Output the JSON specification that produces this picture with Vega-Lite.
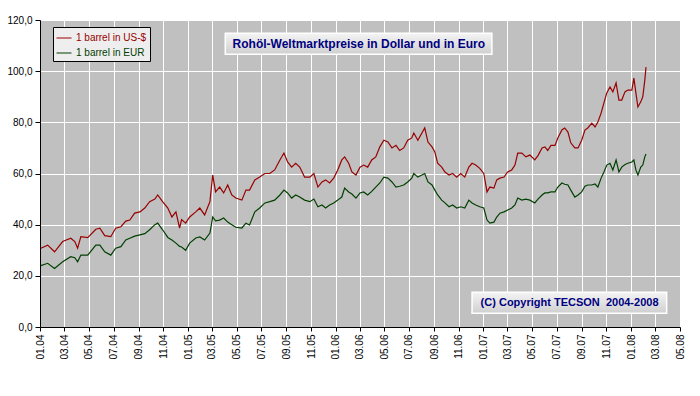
{
  "$schema": "https://vega.github.io/schema/vega-lite/v6.json",
  "width": 640,
  "height": 307,
  "autosize": {"type": "none"},
  "padding": {"left": 40, "top": 20, "right": 20, "bottom": 69},
  "background": "white",
  "config": {
    "view": {"fill": "#C0C0C0", "stroke": null},
    "font": "Liberation Sans",
    "axis": {
      "domainColor": "black",
      "tickColor": "black",
      "labelColor": "black",
      "labelFont": "Liberation Sans",
      "labelFontSize": 10,
      "gridColor": "white",
      "gridOpacity": 1,
      "gridWidth": 1,
      "title": null
    }
  },
  "datasets": {
    "prices": [
      {"date": "2004-01-03", "usd": 30.8, "eur": 24.0},
      {"date": "2004-01-20", "usd": 32.0, "eur": 24.9},
      {"date": "2004-02-06", "usd": 29.4, "eur": 22.9},
      {"date": "2004-02-26", "usd": 33.4, "eur": 25.5},
      {"date": "2004-03-17", "usd": 34.7, "eur": 27.5},
      {"date": "2004-03-27", "usd": 33.4, "eur": 27.1},
      {"date": "2004-04-03", "usd": 30.8, "eur": 25.5},
      {"date": "2004-04-11", "usd": 35.3, "eur": 28.1},
      {"date": "2004-04-28", "usd": 34.9, "eur": 28.1},
      {"date": "2004-05-18", "usd": 38.2, "eur": 32.0},
      {"date": "2004-05-28", "usd": 38.6, "eur": 32.0},
      {"date": "2004-06-09", "usd": 35.7, "eur": 29.4},
      {"date": "2004-06-24", "usd": 35.3, "eur": 28.1},
      {"date": "2004-07-06", "usd": 38.6, "eur": 30.8},
      {"date": "2004-07-19", "usd": 39.2, "eur": 31.4},
      {"date": "2004-07-31", "usd": 41.4, "eur": 34.0},
      {"date": "2004-08-10", "usd": 41.8, "eur": 34.7},
      {"date": "2004-08-22", "usd": 44.5, "eur": 35.5},
      {"date": "2004-09-04", "usd": 45.0, "eur": 36.0},
      {"date": "2004-09-16", "usd": 46.5, "eur": 36.5},
      {"date": "2004-09-28", "usd": 49.0, "eur": 38.0},
      {"date": "2004-10-11", "usd": 50.0, "eur": 40.0},
      {"date": "2004-10-18", "usd": 51.6, "eur": 40.6},
      {"date": "2004-10-30", "usd": 49.0, "eur": 38.0},
      {"date": "2004-11-12", "usd": 46.5, "eur": 35.0},
      {"date": "2004-11-22", "usd": 43.0, "eur": 34.0},
      {"date": "2004-12-02", "usd": 45.0, "eur": 32.8},
      {"date": "2004-12-11", "usd": 38.7, "eur": 31.5},
      {"date": "2004-12-16", "usd": 42.0, "eur": 31.3},
      {"date": "2004-12-26", "usd": 40.6, "eur": 30.0},
      {"date": "2005-01-05", "usd": 43.0, "eur": 32.8},
      {"date": "2005-01-20", "usd": 45.0, "eur": 34.8},
      {"date": "2005-01-30", "usd": 46.5, "eur": 35.2},
      {"date": "2005-02-11", "usd": 43.8, "eur": 34.0},
      {"date": "2005-02-24", "usd": 49.0, "eur": 36.7},
      {"date": "2005-03-03", "usd": 59.4, "eur": 43.0},
      {"date": "2005-03-10", "usd": 52.8, "eur": 41.5},
      {"date": "2005-03-20", "usd": 54.7, "eur": 41.8},
      {"date": "2005-03-30", "usd": 52.4, "eur": 42.6},
      {"date": "2005-04-09", "usd": 55.5, "eur": 41.0},
      {"date": "2005-04-19", "usd": 51.6, "eur": 40.0},
      {"date": "2005-04-29", "usd": 50.4, "eur": 39.0},
      {"date": "2005-05-14", "usd": 49.6, "eur": 38.7},
      {"date": "2005-05-24", "usd": 53.5, "eur": 40.6},
      {"date": "2005-06-02", "usd": 53.5, "eur": 39.9},
      {"date": "2005-06-15", "usd": 57.5, "eur": 45.0},
      {"date": "2005-06-27", "usd": 58.6, "eur": 46.5},
      {"date": "2005-07-10", "usd": 60.0, "eur": 48.5},
      {"date": "2005-07-22", "usd": 60.0, "eur": 49.0},
      {"date": "2005-08-03", "usd": 61.4, "eur": 49.6},
      {"date": "2005-08-16", "usd": 65.3, "eur": 51.6},
      {"date": "2005-08-26", "usd": 68.0, "eur": 53.5},
      {"date": "2005-09-04", "usd": 64.5, "eur": 52.4},
      {"date": "2005-09-14", "usd": 62.5, "eur": 50.4},
      {"date": "2005-09-24", "usd": 64.0, "eur": 51.6},
      {"date": "2005-10-04", "usd": 62.5, "eur": 50.8},
      {"date": "2005-10-16", "usd": 58.6, "eur": 49.6},
      {"date": "2005-10-29", "usd": 58.6, "eur": 49.0},
      {"date": "2005-11-08", "usd": 60.0, "eur": 50.0},
      {"date": "2005-11-18", "usd": 54.7, "eur": 47.0},
      {"date": "2005-11-28", "usd": 56.7, "eur": 47.7},
      {"date": "2005-12-07", "usd": 57.5, "eur": 46.5},
      {"date": "2005-12-17", "usd": 56.3, "eur": 47.7},
      {"date": "2005-12-27", "usd": 58.2, "eur": 48.5},
      {"date": "2006-01-06", "usd": 61.4, "eur": 49.6},
      {"date": "2006-01-16", "usd": 65.3, "eur": 50.8},
      {"date": "2006-01-23", "usd": 66.5, "eur": 54.3},
      {"date": "2006-02-02", "usd": 64.0, "eur": 52.8},
      {"date": "2006-02-10", "usd": 60.6, "eur": 52.0},
      {"date": "2006-02-20", "usd": 59.4, "eur": 50.4},
      {"date": "2006-03-02", "usd": 62.5, "eur": 52.4},
      {"date": "2006-03-11", "usd": 63.3, "eur": 52.8},
      {"date": "2006-03-21", "usd": 62.5, "eur": 51.6},
      {"date": "2006-03-31", "usd": 65.3, "eur": 53.0},
      {"date": "2006-04-10", "usd": 66.5, "eur": 54.7},
      {"date": "2006-04-20", "usd": 70.4, "eur": 56.3},
      {"date": "2006-04-30", "usd": 73.0, "eur": 58.6},
      {"date": "2006-05-10", "usd": 72.3, "eur": 58.2},
      {"date": "2006-05-20", "usd": 70.0, "eur": 56.7},
      {"date": "2006-05-30", "usd": 71.0, "eur": 54.7},
      {"date": "2006-06-08", "usd": 69.0, "eur": 55.0},
      {"date": "2006-06-18", "usd": 70.0, "eur": 55.5},
      {"date": "2006-06-28", "usd": 73.0, "eur": 56.7},
      {"date": "2006-07-08", "usd": 73.9, "eur": 58.2},
      {"date": "2006-07-13", "usd": 75.8, "eur": 60.0},
      {"date": "2006-07-23", "usd": 73.0, "eur": 58.6},
      {"date": "2006-08-02", "usd": 75.8, "eur": 59.4},
      {"date": "2006-08-09", "usd": 77.8, "eur": 60.0},
      {"date": "2006-08-17", "usd": 72.3, "eur": 56.7},
      {"date": "2006-08-27", "usd": 70.4, "eur": 55.5},
      {"date": "2006-09-03", "usd": 68.4, "eur": 53.5},
      {"date": "2006-09-10", "usd": 64.0, "eur": 51.6},
      {"date": "2006-09-20", "usd": 62.5, "eur": 49.6},
      {"date": "2006-09-28", "usd": 60.6, "eur": 48.5},
      {"date": "2006-10-08", "usd": 59.4, "eur": 47.0},
      {"date": "2006-10-17", "usd": 60.0, "eur": 47.7},
      {"date": "2006-10-27", "usd": 58.6, "eur": 46.5},
      {"date": "2006-11-06", "usd": 60.0, "eur": 47.0},
      {"date": "2006-11-16", "usd": 58.6, "eur": 46.5},
      {"date": "2006-11-26", "usd": 62.5, "eur": 49.6},
      {"date": "2006-12-04", "usd": 64.0, "eur": 48.5},
      {"date": "2006-12-13", "usd": 63.3, "eur": 47.7},
      {"date": "2006-12-23", "usd": 62.0, "eur": 47.0},
      {"date": "2007-01-02", "usd": 60.0, "eur": 46.5},
      {"date": "2007-01-10", "usd": 52.8, "eur": 41.8},
      {"date": "2007-01-17", "usd": 54.7, "eur": 40.6},
      {"date": "2007-01-27", "usd": 54.3, "eur": 41.0},
      {"date": "2007-02-03", "usd": 57.5, "eur": 43.0},
      {"date": "2007-02-11", "usd": 58.2, "eur": 44.5},
      {"date": "2007-02-21", "usd": 58.6, "eur": 45.0},
      {"date": "2007-03-02", "usd": 60.6, "eur": 45.7},
      {"date": "2007-03-12", "usd": 61.4, "eur": 46.5},
      {"date": "2007-03-20", "usd": 63.3, "eur": 47.7},
      {"date": "2007-03-27", "usd": 68.0, "eur": 50.4},
      {"date": "2007-04-06", "usd": 68.0, "eur": 49.6},
      {"date": "2007-04-16", "usd": 66.5, "eur": 50.0},
      {"date": "2007-04-26", "usd": 67.2, "eur": 49.6},
      {"date": "2007-05-08", "usd": 65.3, "eur": 48.5},
      {"date": "2007-05-16", "usd": 67.0, "eur": 50.0},
      {"date": "2007-05-26", "usd": 70.0, "eur": 51.6},
      {"date": "2007-06-02", "usd": 70.4, "eur": 52.4},
      {"date": "2007-06-09", "usd": 69.0, "eur": 52.4},
      {"date": "2007-06-17", "usd": 71.0, "eur": 52.8},
      {"date": "2007-06-27", "usd": 71.0, "eur": 52.8},
      {"date": "2007-07-04", "usd": 73.9, "eur": 54.7},
      {"date": "2007-07-14", "usd": 77.0, "eur": 56.3},
      {"date": "2007-07-21", "usd": 77.8, "eur": 55.8},
      {"date": "2007-07-29", "usd": 76.2, "eur": 55.5},
      {"date": "2007-08-05", "usd": 72.0, "eur": 53.5},
      {"date": "2007-08-15", "usd": 70.0, "eur": 50.8},
      {"date": "2007-08-23", "usd": 70.0, "eur": 51.6},
      {"date": "2007-09-01", "usd": 73.0, "eur": 52.8},
      {"date": "2007-09-09", "usd": 77.0, "eur": 55.0},
      {"date": "2007-09-16", "usd": 77.8, "eur": 55.5},
      {"date": "2007-09-26", "usd": 79.7, "eur": 55.5},
      {"date": "2007-10-04", "usd": 78.2, "eur": 55.9},
      {"date": "2007-10-11", "usd": 80.1, "eur": 54.7},
      {"date": "2007-10-19", "usd": 83.6, "eur": 58.2},
      {"date": "2007-10-26", "usd": 87.6, "eur": 60.6},
      {"date": "2007-11-02", "usd": 91.5, "eur": 63.3},
      {"date": "2007-11-10", "usd": 93.8, "eur": 64.0},
      {"date": "2007-11-17", "usd": 91.9, "eur": 61.4},
      {"date": "2007-11-25", "usd": 95.4, "eur": 65.3},
      {"date": "2007-12-02", "usd": 88.7, "eur": 60.6},
      {"date": "2007-12-09", "usd": 88.7, "eur": 62.5},
      {"date": "2007-12-17", "usd": 91.9, "eur": 63.5},
      {"date": "2007-12-24", "usd": 92.6, "eur": 64.0},
      {"date": "2008-01-03", "usd": 92.6, "eur": 64.5},
      {"date": "2008-01-08", "usd": 97.3, "eur": 65.3},
      {"date": "2008-01-13", "usd": 91.5, "eur": 61.4},
      {"date": "2008-01-18", "usd": 86.0, "eur": 59.4},
      {"date": "2008-01-25", "usd": 88.0, "eur": 62.5},
      {"date": "2008-01-30", "usd": 90.0, "eur": 63.3},
      {"date": "2008-02-04", "usd": 96.5, "eur": 66.5},
      {"date": "2008-02-07", "usd": 101.6, "eur": 67.6}
    ]
  },
  "layer": [
    {
      "data": {"name": "prices"},
      "transform": [{"fold": ["usd", "eur"], "as": ["series", "value"]}],
      "mark": {"type": "line", "strokeWidth": 1.2, "interpolate": "linear"},
      "encoding": {
        "x": {
          "field": "date",
          "type": "temporal",
          "scale": {"domain": [{"year": 2004, "month": 1, "date": 1}, {"year": 2008, "month": 5, "date": 1}], "nice": false},
          "axis": {
            "format": "%m.%y",
            "tickCount": {"interval": "month", "step": 2},
            "labelAngle": 270,
            "tickSize": 4,
            "labelPadding": 3,
            "grid": true,
            "labelOverlap": false,
            "labelFlush": false
          }
        },
        "y": {
          "field": "value",
          "type": "quantitative",
          "scale": {"domain": [0, 120], "nice": false},
          "axis": {
            "values": [0, 20, 40, 60, 80, 100, 120],
            "labelExpr": "replace(format(datum.value, '.1f'), '.', ',')",
            "tickSize": 5,
            "labelPadding": 3,
            "grid": true
          }
        },
        "color": {
          "field": "series",
          "type": "nominal",
          "scale": {"domain": ["usd", "eur"], "range": ["#990000", "#004000"]},
          "legend": {
            "title": null,
            "orient": "none",
            "legendX": 13,
            "legendY": 7,
            "direction": "vertical",
            "symbolType": "stroke",
            "symbolSize": 225,
            "symbolStrokeWidth": 1,
            "labelFont": "Liberation Sans",
            "labelFontSize": 10,
            "labelOffset": 4,
            "rowPadding": 2,
            "padding": 3,
            "strokeColor": "black",
            "fillColor": "#eeeeee",
            "labelExpr": "datum.label == 'usd' ? '1 barrel in US-$' : '1 barrel in EUR'",
            "encode": {"labels": {"update": {"fill": {"scale": "color", "field": "value"}}}}
          }
        }
      }
    },
    {
      "data": {"values": [{}]},
      "mark": {
        "type": "rect",
        "stroke": "white",
        "strokeWidth": 1.5,
        "fill": {"gradient": "linear", "x1": 0, "y1": 0, "x2": 0, "y2": 1, "stops": [{"offset": 0, "color": "#f4f4f4"}, {"offset": 1, "color": "#cfcfcf"}]}
      },
      "encoding": {
        "x": {"datum": {"year": 2005, "month": 4, "date": 3}, "type": "temporal"},
        "x2": {"datum": {"year": 2007, "month": 1, "date": 22}},
        "y": {"datum": 114.8, "type": "quantitative"},
        "y2": {"datum": 106.6}
      }
    },
    {
      "data": {"values": [{}]},
      "mark": {"type": "text", "text": "Rohöl-Weltmarktpreise in Dollar und in Euro", "font": "Liberation Sans", "fontSize": 12, "fontWeight": "bold", "color": "#000080", "align": "center", "baseline": "middle"},
      "encoding": {
        "x": {"datum": {"year": 2006, "month": 2, "date": 27}, "type": "temporal"},
        "y": {"datum": 110.7, "type": "quantitative"}
      }
    },
    {
      "data": {"values": [{}]},
      "mark": {
        "type": "rect",
        "stroke": "white",
        "strokeWidth": 1.5,
        "fill": {"gradient": "linear", "x1": 0, "y1": 0, "x2": 0, "y2": 1, "stops": [{"offset": 0, "color": "#f4f4f4"}, {"offset": 1, "color": "#cfcfcf"}]}
      },
      "encoding": {
        "x": {"datum": {"year": 2006, "month": 12, "date": 4}, "type": "temporal"},
        "x2": {"datum": {"year": 2008, "month": 3, "date": 29}},
        "y": {"datum": 13.56, "type": "quantitative"},
        "y2": {"datum": 5.36}
      }
    },
    {
      "data": {"values": [{}]},
      "mark": {"type": "text", "text": "(C) Copyright TECSON\u00a0 2004-2008", "font": "Liberation Sans", "fontSize": 11, "fontWeight": "bold", "color": "#000080", "align": "center", "baseline": "middle"},
      "encoding": {
        "x": {"datum": {"year": 2007, "month": 8, "date": 2}, "type": "temporal"},
        "y": {"datum": 9.46, "type": "quantitative"}
      }
    }
  ]
}
